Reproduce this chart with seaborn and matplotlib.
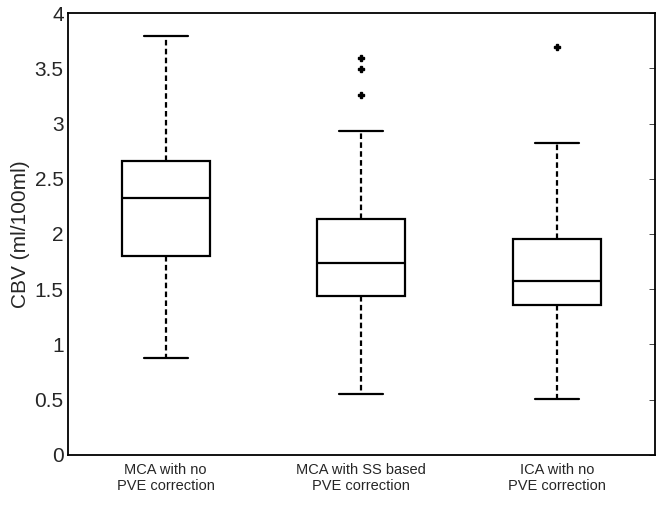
import numpy as np
import pandas as pd
import matplotlib
matplotlib.use("Agg")
import matplotlib.pyplot as plt
import seaborn as sns

groups = ["MCA with no\nPVE correction",
          "MCA with SS based\nPVE correction",
          "ICA with no\nPVE correction"]
whisker_lo = [0.88, 0.55, 0.51]
q1 = [1.80, 1.44, 1.36]
median = [2.33, 1.74, 1.57]
q3 = [2.66, 2.14, 1.95]
whisker_hi = [3.79, 2.93, 2.82]
outliers = [[], [3.26, 3.49, 3.59], [3.69]]

yticks = [0, 0.5, 1, 1.5, 2, 2.5, 3, 3.5, 4]
ytick_labels = ["0", "0.5", "1", "1.5", "2", "2.5", "3", "3.5", "4"]

# sample per group that reproduces the read box stats (quartile values repeated)
rows = []
for i, g in enumerate(groups):
    vals = ([whisker_lo[i]] + [q1[i]] * 10 + [median[i]] * 10 + [q3[i]] * 10
            + [whisker_hi[i]] + outliers[i])
    rows += [(g, v) for v in vals]
df = pd.DataFrame(rows, columns=["group", "cbv"])

sns.set_style("white")
plt.rcParams["font.family"] = ["Liberation Sans", "DejaVu Sans"]

fig = plt.figure(figsize=(6.65, 5.24), dpi=100)
ax = fig.add_axes([0.102, 0.132, 0.883, 0.843])

sns.boxplot(data=df, x="group", y="cbv", width=0.45, whis=1.5,
            color="white", saturation=1, linecolor="black", linewidth=1.6,
            whiskerprops=dict(linestyle=(0, (2.5, 1.5))),
            flierprops=dict(marker="P", markersize=4,
                            markerfacecolor="black", markeredgecolor="black"),
            ax=ax)

ax.set_xlim(-0.5, 2.5)
ax.set_ylim(0, 4)
ax.set_yticks(yticks, ytick_labels)
ax.set_xlabel("")
ax.set_ylabel("CBV (ml/100ml)", fontsize=15, labelpad=3)
ax.tick_params(axis="y", direction="in", length=4, width=0.6, right=True,
               labelsize=15, pad=3)
ax.tick_params(axis="x", length=0, labelsize=10.5, pad=6)
for s in ax.spines.values():
    s.set_visible(True)
    s.set_color("black")
    s.set_linewidth(1.3)

fig.savefig("out.png", dpi=100)
